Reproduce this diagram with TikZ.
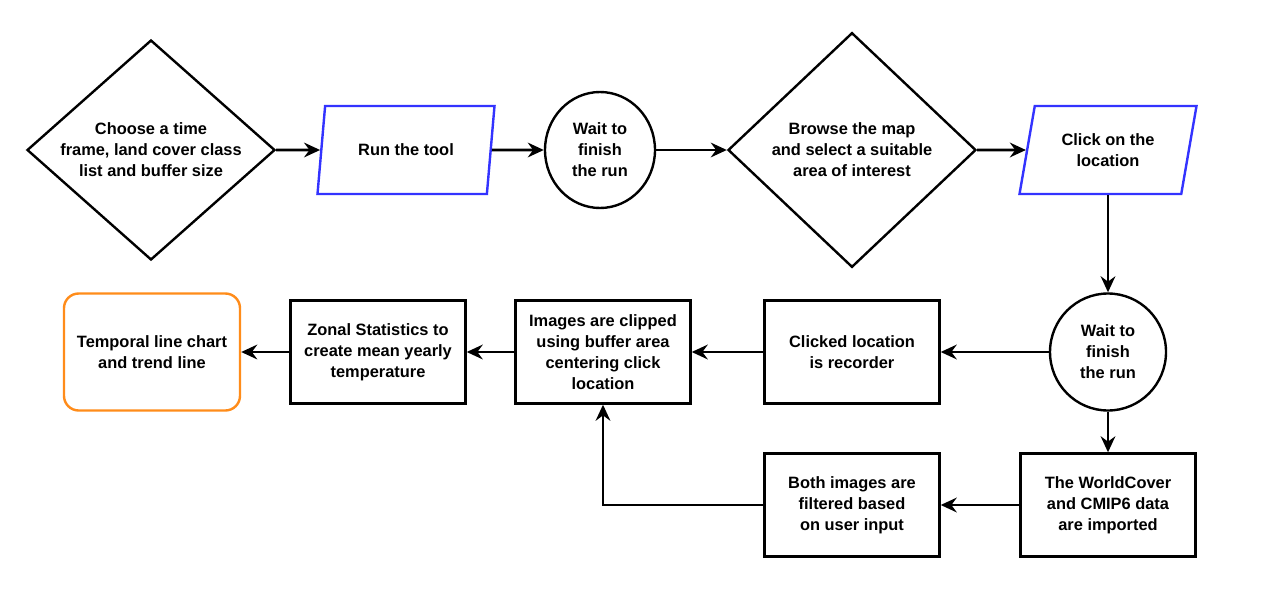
\documentclass[tikz,border=0pt]{standalone}
\usepackage{fontspec}
\setmainfont{Liberation Sans}
\usetikzlibrary{shapes.geometric,arrows.meta}
\definecolor{pblue}{RGB}{51,51,255}
\definecolor{porange}{RGB}{255,140,26}
\begin{document}
\begin{tikzpicture}[x=0.75pt,y=-0.75pt,
  every node/.style={font=\bfseries\fontsize{12.3}{15.75}\selectfont, align=center, line width=1.8pt},
  decision/.style={diamond, draw, inner sep=-4pt, minimum width=186pt},
  io/.style={trapezium, draw=pblue, trapezium left angle=70, trapezium right angle=110,
     trapezium stretches body, minimum width=132.75pt, minimum height=66pt},
  waitc/.style={ellipse, draw, inner sep=0pt},
  stepbox/.style={rectangle, draw, minimum width=131.25pt, minimum height=77.25pt, inner sep=2pt},
  final/.style={rectangle, rounded corners=11pt, draw=porange, minimum width=132pt, minimum height=87.75pt},
  flow/.style={-{Stealth[length=12pt,width=11pt,inset=4pt]}, line width=2pt}
]
\useasboundingbox[fill=white] (0,0) rectangle (1263,589);
\node[decision, aspect=1.13, minimum height=165pt] (choose) at (151,150) {Choose a time\\frame, land cover class\\list and buffer size};
\node[io] (run) at (406,150) {Run the tool};
\node[waitc, minimum width=82.5pt, minimum height=87pt] (wait1) at (600,150) {Wait to\\finish\\the run};
\node[decision, aspect=1.055, minimum height=176pt] (browse) at (852,150) {Browse the map\\and select a suitable\\area of interest};
\node[io] (click) at (1108,150) {Click on the\\location};
\node[waitc, minimum width=87pt, minimum height=87.75pt] (wait2) at (1108,352) {Wait to\\finish\\the run};
\node[stepbox] (worldcover) at (1108,505) {The WorldCover\\and CMIP6 data\\are imported};
\node[stepbox] (clicked) at (852,352) {Clicked location\\is recorder};
\node[stepbox] (clipped) at (603,352) {Images are clipped\\using buffer area\\centering click\\location};
\node[stepbox] (zonal) at (378,352) {Zonal Statistics to\\create mean yearly\\temperature};
\node[final] (temporal) at (152,352) {Temporal line chart\\and trend line};
\node[stepbox] (both) at (852,505) {Both images are\\filtered based\\on user input};

\draw[flow] (choose) -- (run);
\draw[flow] (run) -- (wait1);
\draw[flow] (wait1) -- (browse);
\draw[flow] (browse) -- (click);
\draw[flow] (click.south -| wait2.north) -- (wait2.north);
\draw[flow] (wait2) -- (worldcover);
\draw[flow] (wait2) -- (clicked);
\draw[flow] (clicked) -- (clipped);
\draw[flow] (clipped) -- (zonal);
\draw[flow] (zonal) -- (temporal);
\draw[flow] (worldcover) -- (both);
\draw[flow] (both.west) -| (clipped.south);
\end{tikzpicture}
\end{document}
